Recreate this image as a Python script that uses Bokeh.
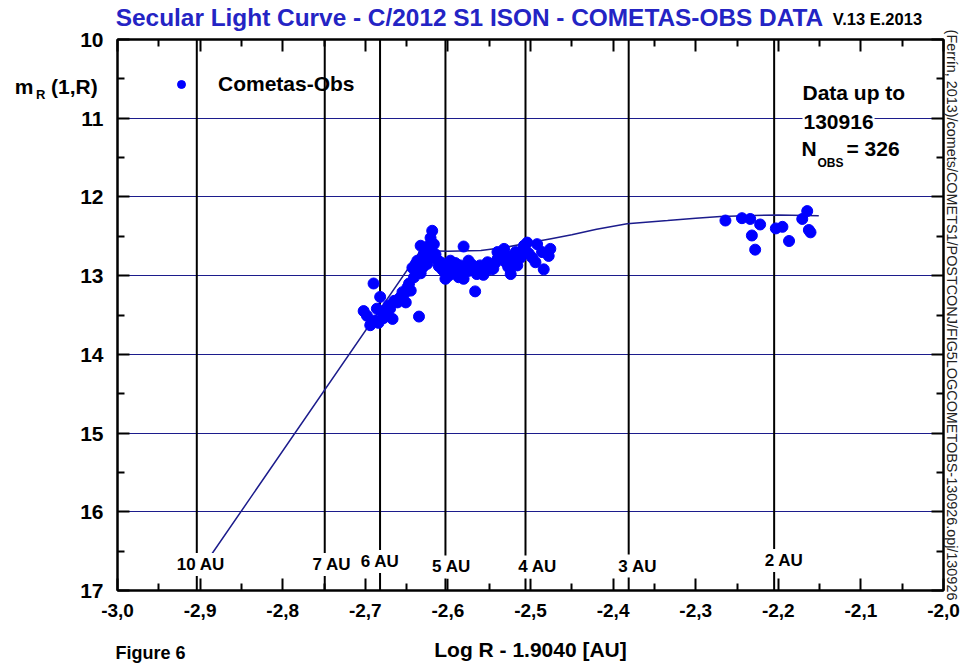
import math
from bokeh.plotting import figure
from bokeh.models import (Range1d, FixedTicker, LinearAxis, Label, Legend, LegendItem,
                          CustomJSTickFormatter, Title)
from bokeh.embed import file_html
from bokeh.resources import INLINE

# ---------------- data ----------------
obs_logr = [
    -2.690, -2.682, -2.702, -2.698, -2.694, -2.688, -2.686, -2.680, -2.678, -2.672,
    -2.667, -2.665, -2.661, -2.655, -2.651, -2.649, -2.645, -2.647, -2.635, -2.641,
    -2.637, -2.676, -2.684, -2.670, -2.658, -2.652,
    -2.633, -2.627, -2.625, -2.621, -2.617, -2.630, -2.633, -2.619, -2.621, -2.627,
    -2.617, -2.615, -2.623, -2.637, -2.631, -2.609, -2.607, -2.603, -2.643, -2.639,
    -2.625, -2.613, -2.619, -2.611, -2.629,
    -2.597, -2.595, -2.589, -2.585, -2.587, -2.581, -2.575, -2.575, -2.569, -2.565,
    -2.567, -2.561, -2.555, -2.552, -2.547, -2.542, -2.540, -2.605, -2.599, -2.581,
    -2.591, -2.579, -2.571, -2.559, -2.549, -2.601, -2.593, -2.583, -2.563, -2.557,
    -2.540, -2.532, -2.528, -2.530, -2.524, -2.527, -2.520, -2.516, -2.512, -2.508,
    -2.504, -2.506, -2.498, -2.494, -2.492, -2.486, -2.484, -2.476, -2.478, -2.545,
    -2.536, -2.518, -2.502,
    -2.264, -2.244, -2.234, -2.222, -2.232, -2.228, -2.203, -2.195, -2.187, -2.171,
    -2.165, -2.161, -2.163,
]
obs_mag = [
    13.10, 13.27, 13.45, 13.51, 13.63, 13.57, 13.42, 13.46, 13.54, 13.38,
    13.55, 13.32, 13.34, 13.21, 13.34, 13.15, 13.19, 13.10, 13.52, 13.02,
    12.96, 13.48, 13.60, 13.42, 13.28, 13.22,
    12.62, 12.81, 12.68, 12.60, 12.77, 12.89, 12.97, 12.43, 12.52, 12.64,
    12.60, 12.73, 12.77, 12.81, 12.89, 12.83, 12.92, 13.04, 12.90, 12.85,
    12.85, 12.80, 12.70, 12.88, 12.72,
    12.81, 12.89, 12.94, 12.87, 13.02, 12.63, 12.81, 12.94, 12.92, 12.98,
    13.20, 12.87, 12.94, 12.83, 12.92, 12.83, 12.70, 12.94, 13.00, 13.04,
    12.84, 12.90, 12.86, 12.92, 12.86, 12.86, 12.97, 12.95, 12.89, 12.99,
    12.79, 12.66, 12.75, 12.83, 12.98, 12.89, 12.79, 12.87, 12.77, 12.62,
    12.58, 12.68, 12.77, 12.83, 12.60, 12.70, 12.92, 12.66, 12.75, 12.91,
    12.74, 12.70, 12.72,
    12.30, 12.27, 12.28, 12.35, 12.49, 12.67, 12.40, 12.38, 12.56, 12.28,
    12.18, 12.45, 12.42,
]
fit_logr = [-2.890, -2.633, -2.600, -2.560, -2.530, -2.500, -2.475, -2.450, -2.420,
            -2.383, -2.334, -2.300, -2.270, -2.230, -2.200, -2.151]
fit_mag = [16.60, 12.68, 12.69, 12.68, 12.64, 12.58, 12.53, 12.48, 12.41,
           12.34, 12.30, 12.27, 12.25, 12.235, 12.23, 12.24]

au_dist = [10, 7, 6, 5, 4, 3, 2]
au_labels = ["10 AU", "7 AU", "6 AU", "5 AU", "4 AU", "3 AU", "2 AU"]
au_label_mag = [16.67, 16.67, 16.63, 16.70, 16.70, 16.69, 16.62]
au_label_shift = [4, 7, 0, 6, 12, 9, 10]
LOG_OFFSET = 1.9040

x_ticks = [-3.0, -2.9, -2.8, -2.7, -2.6, -2.5, -2.4, -2.3, -2.2, -2.1, -2.0]
x_minor = [-2.95, -2.85, -2.75, -2.65, -2.55, -2.45, -2.35, -2.25, -2.15, -2.05]
y_ticks = [10, 11, 12, 13, 14, 15, 16, 17]
y_minor = [10.5, 11.5, 12.5, 13.5, 14.5, 15.5, 16.5]

n_obs = 326
data_date = "130916"
title_text = "Secular Light Curve - C/2012 S1 ISON - COMETAS-OBS DATA"
version_text = "V.13 E.2013"
x_label = "Log R - 1.9040 [AU]"
fig_label = "Figure 6"
y_label_main, y_label_sub, y_label_args = "m", "R", "(1,R)"
side_text = "(Ferrín, 2013)/comets/COMETS1/POSTCONJ/FIG5LOGCOMETOBS-130926.opj/130926"

# ---------------- figure ----------------
W, H = 964, 664
FONT = "Liberation Sans"
BLUE = "#0000ff"
NAVY = "#1c1c8c"
TITLE_BLUE = "#2424c4"
NBSP = "\u00a0"

p = figure(width=W, height=H, output_backend="svg", toolbar_location=None,
           x_range=Range1d(-3.0, -2.0), y_range=Range1d(17, 10),
           min_border_left=117, min_border_right=21, min_border_top=38,
           min_border_bottom=74, background_fill_color="white",
           border_fill_color="white")
p.outline_line_color = "black"
p.outline_line_width = 2

EMPTY = CustomJSTickFormatter(code="return '';")


def tick_axis(ax, ticks, minor):
    """Axis that only draws inward ticks (no labels)."""
    ax.ticker = FixedTicker(ticks=ticks, minor_ticks=minor)
    ax.formatter = EMPTY
    ax.major_label_standoff = 0
    ax.axis_line_color = "black"
    ax.axis_line_width = 2
    ax.major_tick_in = 12
    ax.major_tick_out = 0
    ax.minor_tick_in = 7
    ax.minor_tick_out = 0
    ax.major_tick_line_width = 2
    ax.minor_tick_line_width = 2
    ax.major_tick_line_color = "black"
    ax.minor_tick_line_color = "black"


def label_axis(ticks, texts, size, standoff, color="black"):
    """Axis that only draws texts at given positions (no lines, no ticks)."""
    fmt = CustomJSTickFormatter(args=dict(tvals=list(ticks), labs=list(texts)),
                                code="const i = tvals.indexOf(tick); return i < 0 ? '' : labs[i];")
    return LinearAxis(ticker=FixedTicker(ticks=list(ticks), minor_ticks=[]), formatter=fmt,
                      axis_line_color=None, major_tick_line_color=None,
                      minor_tick_line_color=None, major_tick_in=0, major_tick_out=0,
                      minor_tick_in=0, minor_tick_out=0, major_label_standoff=standoff,
                      major_label_text_font=FONT, major_label_text_font_style="bold",
                      major_label_text_font_size=size, major_label_text_color=color)


# bottom: ticks + numeric labels
xa = p.xaxis[0]
tick_axis(xa, x_ticks, x_minor)
xa.formatter = CustomJSTickFormatter(code="return tick.toFixed(1).replace('.', ',');")
xa.major_label_text_font = FONT
xa.major_label_text_font_style = "bold"
xa.major_label_text_font_size = "19px"
xa.major_label_text_color = "black"
xa.major_label_standoff = 13

# bottom text row: "Figure 6" + axis title on one line
bl = label_axis([-2.96], [fig_label], "18px", 23)
bl.axis_label = x_label
bl.axis_label_text_font = FONT
bl.axis_label_text_font_style = "bold"
bl.axis_label_text_font_size = "21px"
bl.axis_label_text_color = "black"
bl.axis_label_standoff = -28
p.add_layout(bl, "below")

# left: ticks only, then numbers, then subscript, then "m"
ya = p.yaxis[0]
tick_axis(ya, y_ticks, y_minor)
num_ticks = y_ticks + [10.6]
num_texts = [str(t) for t in y_ticks] + [y_label_args + NBSP]
p.add_layout(label_axis(num_ticks, num_texts, "21px", 14), "left")
p.add_layout(label_axis([10.7], [y_label_sub], "13px", 2), "left")
p.add_layout(label_axis([10.6], [y_label_main], "21px", 0), "left")

# top: ticks only, then version text + title on one line
top = LinearAxis()
tick_axis(top, x_ticks, x_minor)
p.add_layout(top, "above")
tl = label_axis([-2.08], [version_text], "16.5px", 12)
tl.axis_label = title_text + NBSP * 18
tl.axis_label_text_font = FONT
tl.axis_label_text_font_style = "bold"
tl.axis_label_text_font_size = "24.4px"
tl.axis_label_text_color = TITLE_BLUE
tl.axis_label_standoff = -24
p.add_layout(tl, "above")

# right: ticks only + file path text
right = LinearAxis()
tick_axis(right, y_ticks, y_minor)
p.add_layout(right, "right")
side = Title(text=side_text, text_font=FONT, text_font_style="normal",
             text_font_size="14.4px", text_color="#222222", align="center", standoff=0)
p.add_layout(side, "right")

p.xgrid.visible = False
p.ygrid.ticker = FixedTicker(ticks=y_ticks)
p.ygrid.grid_line_color = NAVY
p.ygrid.grid_line_width = 1

# vertical distance lines
au_x = [-math.log10(r) - LOG_OFFSET for r in au_dist]
p.segment(x0=au_x, y0=[10] * len(au_x), x1=au_x, y1=[17] * len(au_x),
          line_color="black", line_width=2)

# fit curve
p.line(fit_logr, fit_mag, line_color=NAVY, line_width=1.5)

# observations
r = p.scatter(obs_logr, obs_mag, size=11, fill_color=BLUE, line_color=BLUE)

# AU labels
for xv, lab, ym, sh in zip(au_x, au_labels, au_label_mag, au_label_shift):
    p.add_layout(Label(x=xv, y=ym, x_offset=sh, text=lab, text_align="center",
                       text_baseline="middle", text_font=FONT, text_font_style="bold",
                       text_font_size="17px", text_color="black",
                       background_fill_color="white", padding=2))

# legend
legend = Legend(items=[LegendItem(label="Cometas-Obs", renderers=[r])],
                location=(54, 494), border_line_color=None, background_fill_alpha=0,
                label_text_font=FONT, label_text_font_style="bold",
                label_text_color="black",
                label_text_font_size="21px", glyph_width=20, glyph_height=20,
                label_standoff=27, padding=0, margin=0)
p.add_layout(legend)

# ---------------- texts inside the frame (frame-relative screen coords) ----------------
FL, FB = 117, 590  # frame left / bottom on page


def txt(px, py, text, size, baseline="middle", bg=None):
    kw = {}
    if bg:
        kw["background_fill_color"] = bg
        kw["padding"] = 1
    p.add_layout(Label(x=px - FL, y=FB - py, x_units="screen", y_units="screen",
                       text=text, text_font=FONT, text_font_size=size,
                       text_font_style="bold", text_color="black", text_align="left",
                       text_baseline=baseline, **kw))


txt(802, 92, "Data up to", "21px")
txt(802, 121, data_date, "21px", bg="white")
txt(801, 148, "N", "21px", baseline="alphabetic")
txt(817, 162, "OBS", "12px", baseline="alphabetic")
txt(846, 148, "= %d" % n_obs, "21px", baseline="alphabetic")

open("out.html", "w").write(file_html(p, INLINE))
